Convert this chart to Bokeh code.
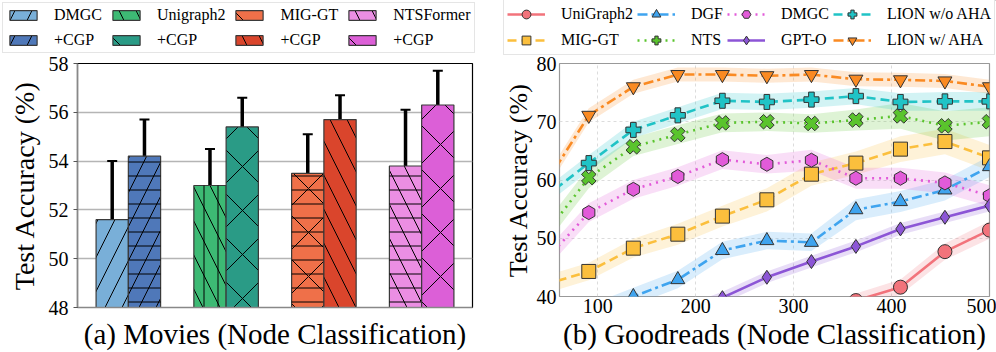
import math
from bokeh.plotting import figure
from bokeh.models import (ColumnDataSource, Whisker, TeeHead, Legend, LegendItem,
                          FixedTicker, Range1d)
from bokeh.layouts import row, column
from bokeh.embed import file_html
from bokeh.resources import INLINE

FONT = "Liberation Serif"

# ---------------- (a) Movies (Node Classification) ----------------
methods = ["DMGC", "Unigraph2", "MIG-GT", "NTSFormer"]
base_acc = [51.6, 53.0, 53.5, 53.8]
base_std = [2.4, 1.5, 1.6, 2.3]
cgp_acc = [54.2, 55.4, 55.7, 56.3]
cgp_std = [1.5, 1.2, 1.0, 1.4]
base_colors = ["#79afd8", "#3dba74", "#ef7049", "#eb8ee3"]
cgp_colors = ["#4f78b9", "#2a9b86", "#da452c", "#dc5fd7"]
base_hatch = [("/", None), ("\\", "|"), ("x", "-"), ("\\", "-")]
cgp_hatch = [("/", "-"), ("x", None), ("\\", None), ("x", None)]
a_yticks = [48, 50, 52, 54, 56, 58]

# ---------------- (b) Goodreads (Node Classification) ----------------
xs = [45.5, 90.9, 136.4, 181.8, 227.3, 272.7, 318.2, 363.6, 409.1, 454.5, 500.0]
unigraph2 = [22.0, 24.0, 26.0, 28.0, 30.0, 32.5, 35.5, 39.3, 41.6, 47.7, 51.4]
unigraph2_sd = [1.2, 1.2, 1.2, 1.2, 1.2, 1.2, 1.2, 1.2, 1.3, 1.4, 1.5]
mig_gt = [42.0, 44.3, 48.3, 50.7, 53.8, 56.6, 61.0, 62.9, 65.3, 66.6, 63.8]
mig_gt_sd = [1.5, 1.5, 1.6, 1.8, 1.8, 2.0, 2.0, 2.0, 2.2, 2.2, 2.2]
dgf = [34.0, 37.0, 40.0, 42.9, 47.9, 49.6, 49.3, 54.9, 56.3, 58.3, 62.3]
dgf_sd = [1.5, 1.5, 1.5, 1.5, 1.5, 1.5, 1.5, 1.8, 1.8, 1.8, 1.8]
nts = [50.5, 60.4, 65.7, 67.8, 69.8, 70.0, 69.7, 70.3, 71.0, 69.3, 70.0]
nts_sd = [1.8, 1.8, 1.6, 1.6, 1.6, 1.6, 1.6, 1.8, 2.2, 2.5, 2.5]
dmgc = [46.0, 54.4, 58.4, 60.6, 63.5, 62.7, 63.4, 60.3, 60.3, 59.5, 57.3]
dmgc_sd = [1.6, 1.6, 1.6, 1.6, 1.6, 1.6, 1.8, 1.8, 1.8, 1.8, 1.8]
gpt_o = [28.0, 31.0, 34.0, 37.0, 39.8, 43.3, 46.0, 48.6, 51.6, 53.6, 55.6]
gpt_o_sd = [1.0, 1.0, 1.0, 1.0, 1.0, 1.0, 1.0, 1.0, 1.0, 1.0, 1.0]
lion_wo = [57.0, 62.9, 68.6, 71.1, 73.6, 73.4, 73.8, 74.4, 73.4, 73.5, 73.5]
lion_wo_sd = [1.4, 1.4, 1.4, 1.4, 1.4, 1.4, 1.4, 1.4, 1.5, 1.6, 1.6]
lion_w = [59.0, 71.1, 76.0, 78.1, 78.1, 77.9, 78.1, 77.3, 77.2, 77.0, 76.0]
lion_w_sd = [1.2, 1.2, 1.2, 1.2, 1.2, 1.2, 1.2, 1.2, 1.2, 1.2, 1.2]
b_xticks = [100, 200, 300, 400, 500]
b_yticks = [40, 50, 60, 70, 80]

series = [
    ("UniGraph2", unigraph2, unigraph2_sd, "#f2737b", "solid", "circle", 0.0),
    ("MIG-GT", mig_gt, mig_gt_sd, "#fbbf3d", "9 5", "square", 0.0),
    ("DGF", dgf, dgf_sd, "#3fa4ef", "10 4 3 4", "triangle", 0.0),
    ("NTS", nts, nts_sd, "#5ac42d", "2 5", "plus", math.pi / 4),
    ("DMGC", dmgc, dmgc_sd, "#e25bd9", "2 5", "hex", math.pi / 6),
    ("GPT-O", gpt_o, gpt_o_sd, "#8c55d6", "solid", "diamond", 0.0),
    ("LION w/o AHA", lion_wo, lion_wo_sd, "#20c3c6", "9 5", "plus", 0.0),
    ("LION w/ AHA", lion_w, lion_w_sd, "#fa8a22", "10 4 3 4", "inverted_triangle", 0.0),
]

HATCH_SCALE = {"/": 34, "\\": 34, "x": 44, "-": 14, "|": 14}
LEG_H = 56

# legend strip spanning both panels (its ranges keep the proxy glyphs out of view)
lg = figure(width=996, height=LEG_H, x_range=Range1d(-2000, -1000), y_range=Range1d(-2000, -1000),
            min_border_left=0, min_border_right=0, min_border_top=0, min_border_bottom=0,
            x_axis_location=None, y_axis_location=None,
            output_backend="svg", toolbar_location=None)
lg.grid.visible = False
lg.outline_line_color = None
lg.background_fill_color = "white"
lg.border_fill_color = "white"

LEG_STYLE = dict(label_text_font=FONT, label_text_font_size="16px",
                 label_text_font_style="normal", label_text_color="black",
                 border_line_color="#cccccc", border_line_width=1,
                 background_fill_color="white", background_fill_alpha=1, margin=0,
                 orientation="vertical", nrows=2)

# ================= figure (a) =================
FWA, FHA = 395, 244
pa = figure(x_range=Range1d(-0.52, 3.52), y_range=Range1d(48, 58),
            frame_width=FWA, frame_height=FHA,
            min_border_left=77, min_border_right=28, min_border_top=63 - LEG_H,
            min_border_bottom=45,
            output_backend="svg", toolbar_location=None)
off, bw = 0.165, 0.33
items_a = []
wx, wlo, whi = [], [], []
for i, m in enumerate(methods):
    for acc, sd, col, hat, dx, lab in [
        (base_acc[i], base_std[i], base_colors[i], base_hatch[i], -off, m),
        (cgp_acc[i], cgp_std[i], cgp_colors[i], cgp_hatch[i], off, "+CGP"),
    ]:
        style = dict(fill_color=col, line_color="#3a3a3a", line_width=1.2,
                     hatch_pattern=hat[0], hatch_color="black", hatch_weight=1,
                     hatch_scale=HATCH_SCALE[hat[0]])
        pa.vbar(x=[i + dx], top=[acc], bottom=a_yticks[0], width=bw, **style)
        if hat[1]:
            pa.vbar(x=[i + dx], top=[acc], bottom=a_yticks[0], width=bw,
                    fill_alpha=0, line_alpha=0,
                    hatch_pattern=hat[1], hatch_color="black", hatch_weight=1,
                    hatch_scale=HATCH_SCALE[hat[1]])
        rd = lg.vbar(x=[i + dx], top=[acc], bottom=a_yticks[0], width=bw, **style)
        items_a.append(LegendItem(label=lab, renderers=[rd]))
        wx.append(i + dx)
        wlo.append(acc - sd)
        whi.append(acc + sd)

wsrc = ColumnDataSource(dict(x=wx, lo=wlo, hi=whi))
pa.add_layout(Whisker(source=wsrc, base="x", lower="lo", upper="hi",
                      line_color="black", line_width=3.5,
                      upper_head=TeeHead(size=10, line_width=2, line_color="black"),
                      lower_head=TeeHead(size=10, line_width=2, line_color="black")))

pa.xgrid.visible = False
pa.ygrid.grid_line_color = "#b5b5b5"
pa.ygrid.grid_line_width = 1.5
pa.ygrid.ticker = FixedTicker(ticks=a_yticks)
pa.yaxis.ticker = FixedTicker(ticks=a_yticks)
pa.xaxis.ticker = FixedTicker(ticks=[])
pa.outline_line_color = "black"
pa.outline_line_width = 1.2
for ax in (pa.xaxis[0], pa.yaxis[0]):
    ax.axis_line_color = "#888888"
    ax.axis_line_width = 1.5
    ax.major_tick_line_color = "#555555"
    ax.major_tick_out = 4
    ax.major_tick_in = 0
    ax.minor_tick_line_color = None
    ax.major_label_text_font = FONT
    ax.major_label_text_font_size = "20px"
    ax.major_label_text_color = "black"
    ax.axis_label_text_font = FONT
    ax.axis_label_text_font_style = "normal"
    ax.axis_label_text_color = "black"
pa.yaxis.major_label_standoff = 5
pa.yaxis.axis_label = "Test Accuracy (%)"
pa.yaxis.axis_label_text_font_size = "28px"
pa.yaxis.axis_label_standoff = 6
pa.xaxis.axis_label = "(a) Movies (Node Classification)"
pa.xaxis.axis_label_text_font_size = "29px"
pa.xaxis.axis_label_standoff = 10
pa.xaxis.major_tick_out = 0

lega = Legend(items=items_a, location=(2, 3),
              glyph_width=34, glyph_height=12, label_standoff=14, spacing=7, padding=3,
              **LEG_STYLE)
lg.add_layout(lega, "center")

# ================= figure (b) =================
FWB, FHB = 430, 233
pb = figure(x_range=Range1d(61, 500), y_range=Range1d(40, 80),
            frame_width=FWB, frame_height=FHB,
            min_border_left=59, min_border_right=7, min_border_top=62 - LEG_H,
            min_border_bottom=57,
            output_backend="svg", toolbar_location=None)
for name, ys, sd, col, dash, mk, ang in series:
    pb.varea(x=xs, y1=[y - s for y, s in zip(ys, sd)], y2=[y + s for y, s in zip(ys, sd)],
             fill_color=col, fill_alpha=0.2)
items_b = []
for name, ys, sd, col, dash, mk, ang in series:
    lstyle = dict(line_color=col, line_width=2.6, line_dash=dash)
    mstyle = dict(marker=mk, angle=ang, size=14 if mk != "plus" else 15,
                  fill_color=col, line_color="#333333", line_width=1)
    pb.line(x=xs, y=ys, **lstyle)
    pb.scatter(x=xs, y=ys, **mstyle)
    rl = lg.line(x=xs, y=ys, **lstyle)
    rs = lg.scatter(x=xs, y=ys, **mstyle)
    items_b.append(LegendItem(label=name, renderers=[rl, rs]))

pb.xaxis.ticker = FixedTicker(ticks=b_xticks)
pb.yaxis.ticker = FixedTicker(ticks=b_yticks)
pb.xgrid.ticker = FixedTicker(ticks=b_xticks)
pb.ygrid.ticker = FixedTicker(ticks=b_yticks)
pb.grid.grid_line_color = "#dcdcdc"
pb.grid.grid_line_dash = "3 3"
pb.grid.grid_line_width = 1
pb.outline_line_color = "#999999"
pb.outline_line_width = 1.2
for ax in (pb.xaxis[0], pb.yaxis[0]):
    ax.axis_line_color = None
    ax.major_tick_line_color = None
    ax.major_tick_out = 0
    ax.major_tick_in = 0
    ax.minor_tick_line_color = None
    ax.major_label_text_font = FONT
    ax.major_label_text_font_size = "20px"
    ax.major_label_text_color = "black"
    ax.axis_label_text_font = FONT
    ax.axis_label_text_font_style = "normal"
    ax.axis_label_text_color = "black"
pb.xaxis.major_label_standoff = 2
pb.yaxis.major_label_standoff = 3
pb.yaxis.axis_label = "Test Accuracy (%)"
pb.yaxis.axis_label_text_font_size = "26px"
pb.yaxis.axis_label_standoff = 1
pb.xaxis.axis_label = "(b) Goodreads (Node Classification)"
pb.xaxis.axis_label_text_font_size = "29px"
pb.xaxis.axis_label_standoff = 2

legb = Legend(items=items_b, location=(503, 1),
              glyph_width=38, glyph_height=22, label_standoff=16, spacing=4, padding=3,
              **LEG_STYLE)
lg.add_layout(legb, "center")

for p in (pa, pb):
    p.background_fill_color = "white"
    p.border_fill_color = "white"

layout = column(lg, row(pa, pb))
open("out.html", "w").write(file_html(layout, INLINE))
